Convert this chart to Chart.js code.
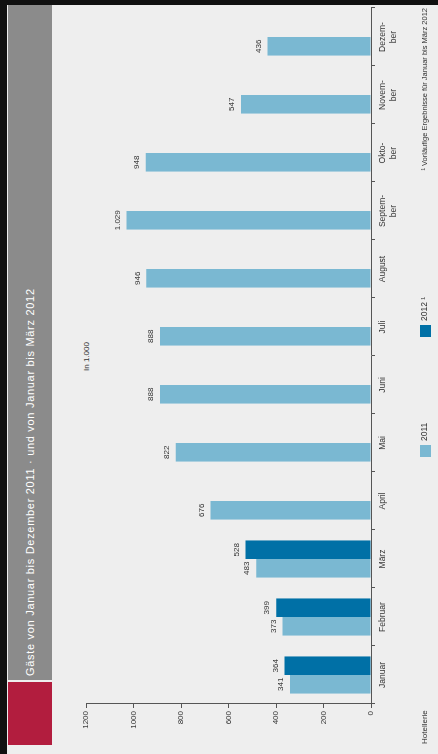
<!DOCTYPE html>
<html>
<head>
<meta charset="utf-8">
<script src="https://cdn.jsdelivr.net/npm/chart.js@4"></script>
<style>
  html, body { margin:0; padding:0; width:438px; height:754px; overflow:hidden; background:#eeeeee; }
  #rot { position:absolute; left:0; top:0; width:754px; height:438px; transform-origin:0 0;
         transform: translateY(754px) rotate(-90deg); background:#eeeeee;
         font-family:"Liberation Sans", Arial, sans-serif; }
  #rot div { position:absolute; }
  canvas { position:absolute; left:0; top:0; }
</style>
</head>
<body>
<script>
const categories = ["Januar","Februar","März","April","Mai","Juni","Juli","August",["Septem-","ber"],["Okto-","ber"],["Novem-","ber"],["Dezem-","ber"]];
const values2011 = [341,373,483,676,822,888,888,946,1029,948,547,436];
const values2012 = [364,399,528,null,null,null,null,null,null,null,null,null];
const seriesNames = ["2011","2012"];
const valueTicks = [0,200,400,600,800,1000,1200];
const titleText = "Gäste von Januar bis Dezember 2011 · und von Januar bis März 2012";
const unitText = "In 1.000";
const sourceText = "Hotellerie";
const noteText = "¹ Vorläufige Ergebnisse für Januar bis März 2012";
</script>
<div id="rot">
  <div style="left:0;top:0;width:754px;height:7px;background:#111;"></div>
  <div style="left:749px;top:0;width:5px;height:438px;background:#111;"></div>
  <div style="left:9px;top:8px;width:63px;height:44px;background:#b21d3e;"></div>
  <div style="left:74px;top:8px;width:675px;height:44px;background:#8b8b8b;"></div>
  <div id="title" style="left:78px;top:8px;height:44px;line-height:44px;color:#fff;font-size:11px;letter-spacing:0.7px;white-space:nowrap;"></div>
  <div id="unit" style="left:383px;top:82px;font-size:8px;color:#333;white-space:nowrap;"></div>
  <canvas id="c" width="754" height="438"></canvas>
  <div style="left:297px;top:420px;width:12px;height:11px;background:#7ab8d2;"></div>
  <div id="lg1" style="left:313px;top:419px;font-size:8.5px;color:#333;"></div>
  <div style="left:417px;top:420px;width:12px;height:11px;background:#0070a6;"></div>
  <div id="lg2" style="left:433px;top:419px;font-size:8.5px;color:#333;white-space:nowrap;"></div>
  <div id="src" style="left:10px;top:420px;font-size:8px;color:#333;white-space:nowrap;"></div>
  <div id="note" style="right:8px;top:420px;font-size:7.5px;color:#333;white-space:nowrap;"></div>
</div>
<script>
document.getElementById('title').textContent = titleText;
document.getElementById('unit').textContent = unitText;
document.getElementById('lg1').textContent = seriesNames[0];
document.getElementById('lg2').textContent = seriesNames[1] + " ¹";
document.getElementById('src').textContent = sourceText;
document.getElementById('note').textContent = noteText;

const valueLabels = {
  id: 'valueLabels',
  afterDatasetsDraw(chart) {
    const ctx = chart.ctx;
    ctx.save();
    ctx.font = '8px "Liberation Sans", Arial, sans-serif';
    ctx.fillStyle = '#333';
    ctx.textAlign = 'center';
    ctx.textBaseline = 'bottom';
    chart.data.datasets.forEach((ds, i) => {
      const meta = chart.getDatasetMeta(i);
      meta.data.forEach((el, j) => {
        const v = ds.data[j];
        if (v === null || v === undefined) return;
        ctx.fillText(v.toLocaleString('de-DE'), el.x, el.y - 5);
      });
    });
    ctx.restore();
  }
};

new Chart(document.getElementById('c'), {
  type: 'bar',
  data: {
    labels: categories,
    datasets: [
      { label: seriesNames[0], data: values2011, backgroundColor: '#7ab8d2', categoryPercentage: 0.64, barPercentage: 1.0 },
      { label: seriesNames[1], data: values2012, backgroundColor: '#0070a6', categoryPercentage: 0.64, barPercentage: 1.0 }
    ]
  },
  options: {
    responsive: false,
    animation: false,
    devicePixelRatio: 1,
    layout: { padding: { left: 0, right: 8, top: 86, bottom: 0 } },
    plugins: { legend: { display: false }, tooltip: { enabled: false } },
    scales: {
      x: {
        grid: { display: true, drawOnChartArea: false, offset: true, tickLength: 4, color: '#555' },
        border: { color: '#555', width: 1 },
        ticks: { font: { size: 8.5, family: '"Liberation Sans", Arial, sans-serif' }, color: '#333', padding: 3, maxRotation: 0, autoSkip: false },
        afterFit: s => { s.height = 67; }
      },
      y: {
        min: 0, max: 1200,
        afterBuildTicks: s => { s.ticks = valueTicks.map(v => ({ value: v })); },
        grid: { display: true, drawOnChartArea: false, tickLength: 4, color: '#555' },
        border: { color: '#555', width: 1 },
        ticks: { font: { size: 8, family: '"Liberation Sans", Arial, sans-serif' }, color: '#333', padding: 3, callback: v => String(v) },
        afterFit: s => { s.width = 50; }
      }
    }
  },
  plugins: [valueLabels]
});
</script>
</body>
</html>
